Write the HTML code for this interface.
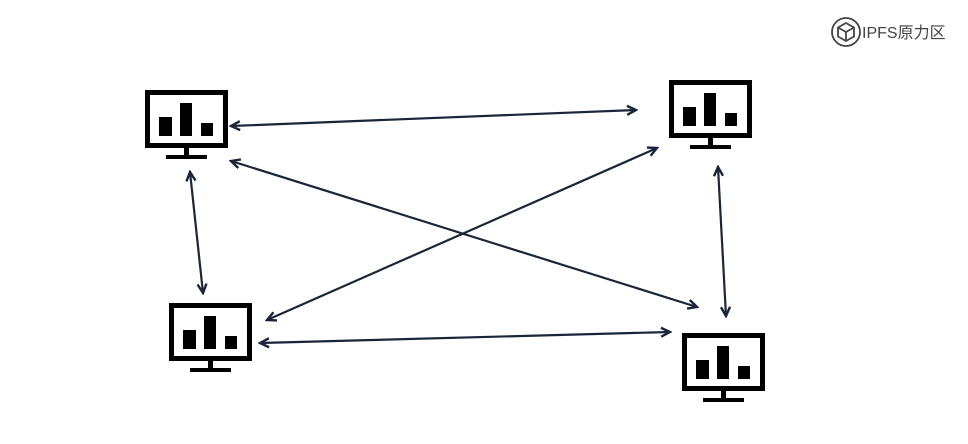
<!DOCTYPE html>
<html><head><meta charset="utf-8"><style>
html,body{margin:0;padding:0;background:#fff;}
svg{display:block}
</style></head><body>
<svg width="968" height="444" viewBox="0 0 968 444" xmlns="http://www.w3.org/2000/svg">
<defs>
<marker id="ah" viewBox="0 0 12 12" refX="10" refY="6" markerWidth="12" markerHeight="12" markerUnits="userSpaceOnUse" orient="auto-start-reverse">
<path d="M1,1.5 L10,6 L1,10.5" fill="none" stroke="#1a2638" stroke-width="2.4" stroke-linejoin="miter"/>
</marker>
<g id="mon">
<rect x="2.5" y="2.5" width="78" height="53" fill="none" stroke="#000" stroke-width="5"/>
<rect x="14" y="27" width="13" height="19" fill="#000"/>
<rect x="35" y="13" width="12" height="33" fill="#000"/>
<rect x="56" y="33" width="12" height="13" fill="#000"/>
<rect x="39" y="57" width="5" height="9" fill="#000"/>
<rect x="21" y="65" width="41" height="4" fill="#000"/>
</g>
</defs>
<use href="#mon" x="145" y="90"/>
<use href="#mon" x="669" y="80"/>
<use href="#mon" x="169" y="303"/>
<use href="#mon" x="682" y="333"/>
<g stroke="#1a2638" stroke-width="2.2" fill="none" marker-start="url(#ah)" marker-end="url(#ah)">
<line x1="231" y1="126" x2="636" y2="110"/>
<line x1="231" y1="161" x2="697" y2="307"/>
<line x1="657" y1="148" x2="267" y2="320"/>
<line x1="190" y1="172" x2="203" y2="293"/>
<line x1="718" y1="167" x2="726" y2="316"/>
<line x1="260" y1="343" x2="670" y2="332"/>
</g>
<g transform="translate(846,32)" fill="none" stroke="#444" stroke-width="1.8">
<circle cx="0" cy="0" r="14"/>
<path d="M0,-9 L8,-4.5 L8,4.5 L0,9 L-8,4.5 L-8,-4.5 Z M-8,-4.5 L0,0 L8,-4.5 M0,0 L0,9"/>
</g>
<text x="862" y="38" font-family="Liberation Sans, Noto Sans CJK SC, sans-serif" font-size="16" fill="#444">IPFS原力区</text>
</svg>
</body></html>
